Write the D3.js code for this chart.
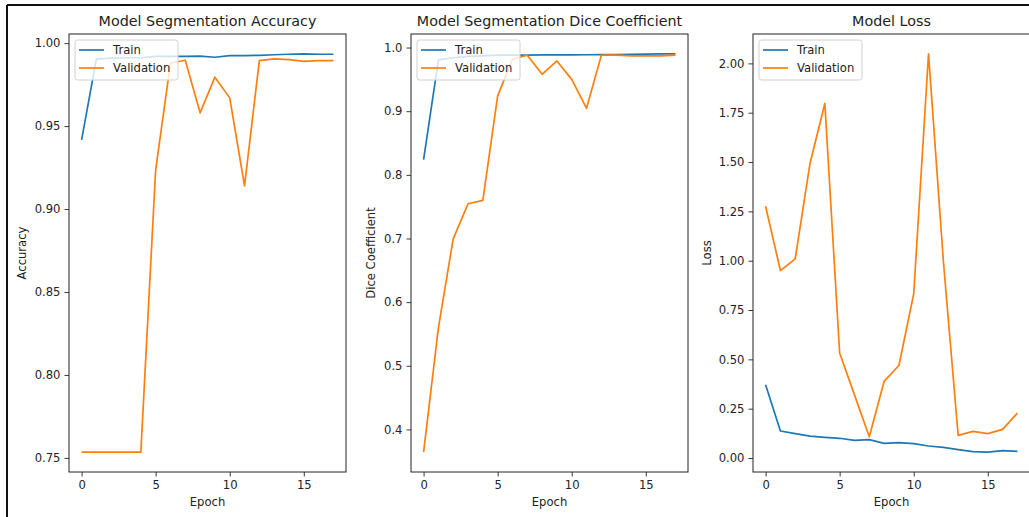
<!DOCTYPE html>
<html>
<head>
<meta charset="utf-8">
<script src="https://cdn.jsdelivr.net/npm/d3@7"></script>
<style>
  body { margin: 0; background: #fff; }
  svg { display: block; }
  text { font-family: "DejaVu Sans", sans-serif; fill: #222; }
</style>
</head>
<body>
<div id="chart"></div>
<script>
var epochs = d3.range(0, 18);
var xTicks = [0, 5, 10, 15];

// Accuracy
var accTrain = [0.9417, 0.9905, 0.991, 0.9912, 0.9912, 0.992, 0.992, 0.992, 0.9922, 0.9915, 0.9925, 0.9925, 0.9926, 0.993, 0.9933, 0.9935, 0.9933, 0.9933];
var accVal = [0.7535, 0.7535, 0.7535, 0.7535, 0.7535, 0.9236, 0.988, 0.9897, 0.958, 0.9795, 0.967, 0.914, 0.9895, 0.9905, 0.990, 0.989, 0.9895, 0.9895];
var accTicks = [0.75, 0.80, 0.85, 0.90, 0.95, 1.00];

// Dice coefficient
var diceTrain = [0.824, 0.9805, 0.984, 0.986, 0.987, 0.988, 0.988, 0.9882, 0.9884, 0.9885, 0.9886, 0.9887, 0.9888, 0.989, 0.9895, 0.9898, 0.99, 0.99];
var diceVal = [0.3644, 0.5595, 0.6995, 0.7546, 0.760, 0.924, 0.9816, 0.988, 0.958, 0.979, 0.950, 0.9045, 0.988, 0.988, 0.987, 0.987, 0.987, 0.988];
var diceTicks = [0.4, 0.5, 0.6, 0.7, 0.8, 0.9, 1.0];

// Loss
var lossTrain = [0.3716, 0.137, 0.1235, 0.111, 0.105, 0.100, 0.0896, 0.093, 0.0744, 0.078, 0.073, 0.061, 0.054, 0.0425, 0.032, 0.030, 0.037, 0.034];
var lossVal = [1.276, 0.950, 1.0096, 1.494, 1.797, 0.532, 0.32, 0.108, 0.388, 0.469, 0.832, 2.048, 1.0, 0.115, 0.135, 0.1235, 0.145, 0.228];
var lossTicks = [0.00, 0.25, 0.50, 0.75, 1.00, 1.25, 1.50, 1.75, 2.00];

var seriesNames = ["Train", "Validation"];
var colors = ["#1f77b4", "#ff7f0e"];

var W = 1029, H = 517;
var plotTop = 34, plotBottom = 472;

var svg = d3.select("#chart")
    .append("svg")
    .attr("width", W)
    .attr("height", H);

// outer frame (top and left edge of the screenshot)
svg.append("line").attr("x1", 7).attr("x2", W).attr("y1", 5).attr("y2", 5)
    .attr("stroke", "#111").attr("stroke-width", 2);
svg.append("line").attr("x1", 7).attr("x2", 7).attr("y1", 5).attr("y2", H)
    .attr("stroke", "#111").attr("stroke-width", 2);

function panel(opt) {
    var all = opt.train.concat(opt.val);
    var lo = d3.min(all), hi = d3.max(all);
    var m = (hi - lo) * 0.05;

    var x = d3.scaleLinear().domain([-0.85, 17.85]).range([opt.left, opt.right]);
    var y = d3.scaleLinear().domain([lo - m, hi + m]).range([plotBottom, plotTop]);

    var g = svg.append("g");

    // series
    [opt.train, opt.val].forEach(function (s, i) {
        var line = d3.line()
            .x(function (d, j) { return x(epochs[j]); })
            .y(function (d) { return y(d); });
        g.append("path")
            .datum(s)
            .attr("fill", "none")
            .attr("stroke", colors[i])
            .attr("stroke-width", 1.7)
            .attr("stroke-linejoin", "round")
            .attr("d", line);
    });

    // axes
    var xaxis = d3.axisBottom(x).tickValues(xTicks).tickSize(4.5).tickPadding(4).tickFormat(d3.format("d"));
    var yaxis = d3.axisLeft(y).tickValues(opt.ticks).tickSize(4.5).tickPadding(4).tickFormat(d3.format(opt.fmt));

    var gx = g.append("g").attr("transform", "translate(0," + plotBottom + ")").call(xaxis);
    var gy = g.append("g").attr("transform", "translate(" + opt.left + ",0)").call(yaxis);
    [gx, gy].forEach(function (a) {
        a.select(".domain").remove();
        a.selectAll("line").attr("stroke", "#222").attr("stroke-width", 0.9);
        a.selectAll("text").style("font-size", "11.6px").attr("fill", "#222")
            .style("font-family", "'DejaVu Sans', sans-serif");
    });

    // frame
    g.append("rect")
        .attr("x", opt.left).attr("y", plotTop)
        .attr("width", opt.right - opt.left).attr("height", plotBottom - plotTop)
        .attr("fill", "none").attr("stroke", "#222").attr("stroke-width", 1);

    // title
    g.append("text")
        .attr("x", (opt.left + opt.right) / 2)
        .attr("y", 26)
        .attr("text-anchor", "middle")
        .style("font-size", "14.3px")
        .text(opt.title);

    // axis labels
    g.append("text")
        .attr("x", (opt.left + opt.right) / 2)
        .attr("y", 506)
        .attr("text-anchor", "middle")
        .style("font-size", "11.6px")
        .text("Epoch");
    g.append("text")
        .attr("transform", "translate(" + opt.ylabX + "," + ((plotTop + plotBottom) / 2) + ") rotate(-90)")
        .attr("text-anchor", "middle")
        .style("font-size", "11.6px")
        .text(opt.ylabel);

    // legend
    var lg = g.append("g").attr("transform", "translate(" + (opt.left + 6) + "," + (plotTop + 6) + ")");
    lg.append("rect")
        .attr("width", opt.legW).attr("height", 40)
        .attr("rx", 2.5)
        .attr("fill", "rgba(255,255,255,0.8)")
        .attr("stroke", "#d0d0d0").attr("stroke-width", 1);
    seriesNames.forEach(function (n, i) {
        var yy = 10 + i * 18;
        lg.append("line")
            .attr("x1", 4).attr("x2", 29).attr("y1", yy).attr("y2", yy)
            .attr("stroke", colors[i]).attr("stroke-width", 1.7);
        lg.append("text")
            .attr("x", 38).attr("y", yy + 4)
            .style("font-size", "11.6px")
            .text(n);
    });
}

panel({ left: 69, right: 346, train: accTrain, val: accVal, ticks: accTicks, fmt: ".2f",
        title: "Model Segmentation Accuracy", ylabel: "Accuracy", ylabX: 26, legW: 103 });
panel({ left: 411, right: 688, train: diceTrain, val: diceVal, ticks: diceTicks, fmt: ".1f",
        title: "Model Segmentation Dice Coefficient", ylabel: "Dice Coefficient", ylabX: 375, legW: 103 });
panel({ left: 753, right: 1030, train: lossTrain, val: lossVal, ticks: lossTicks, fmt: ".2f",
        title: "Model Loss", ylabel: "Loss", ylabX: 711, legW: 103 });
</script>
</body>
</html>
